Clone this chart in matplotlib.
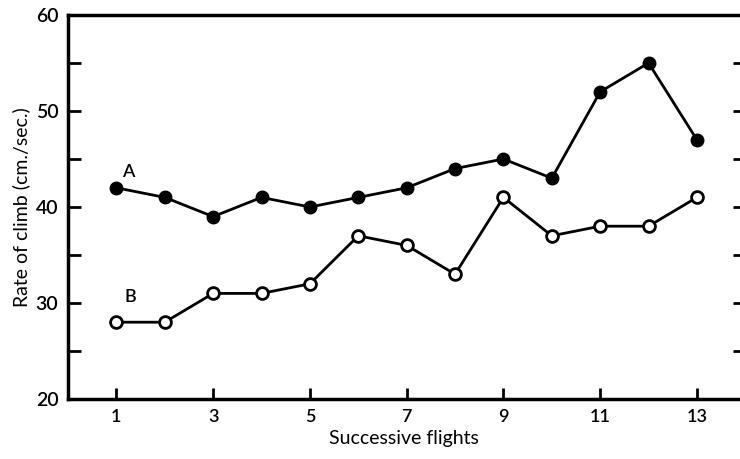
import matplotlib
matplotlib.use("Agg")
import matplotlib.pyplot as plt
from matplotlib.ticker import MultipleLocator

flights = list(range(1, 14))
rate_a = [42, 41, 39, 41, 40, 41, 42, 44, 45, 43, 52, 55, 47]
rate_b = [28, 28, 31, 31, 32, 37, 36, 33, 41, 37, 38, 38, 41]
xticks = [1, 3, 5, 7, 9, 11, 13]
yticks = [20, 30, 40, 50, 60]

plt.rcParams['font.family'] = ['Lato', 'DejaVu Sans']
plt.rcParams['font.weight'] = 'semibold'

fig = plt.figure(figsize=(7.4, 4.59), dpi=100)
ax = fig.add_axes([68 / 740, 60 / 459, 672 / 740, 384 / 459])

ax.plot(flights, rate_a, color='black', lw=2, marker='o', ms=9,
        mfc='black', mec='black', clip_on=False)
ax.plot(flights, rate_b, color='black', lw=2, marker='o', ms=8.5,
        mfc='white', mec='black', mew=2, clip_on=False)

ax.text(1.24, 43.65, 'A', fontsize=13, ha='center', va='center')
ax.text(1.28, 30.6, 'B', fontsize=13, ha='center', va='center')

ax.set_xlim(0, 13.89)
ax.set_ylim(20, 60)
ax.set_xticks(xticks)
ax.set_yticks(yticks)
ax.yaxis.set_minor_locator(MultipleLocator(5))

for s in ['left', 'bottom', 'top']:
    ax.spines[s].set_linewidth(2.5)
ax.spines['right'].set_visible(False)

ax.tick_params(axis='x', direction='in', length=8, width=2, labelsize=13, pad=7)
ax.tick_params(axis='y', which='both', direction='in', length=9, width=2,
               labelsize=14, pad=7)

# short inward ticks on the right edge, no spine
ax2 = ax.twinx()
ax2.set_ylim(ax.get_ylim())
ax2.yaxis.set_major_locator(MultipleLocator(5))
for s in ax2.spines.values():
    s.set_visible(False)
ax2.tick_params(axis='y', direction='in', length=5, width=2, labelright=False)

ax.set_xlabel('Successive flights', fontsize=14, labelpad=4)
ax.set_ylabel('Rate of climb (cm./sec.)', fontsize=14, labelpad=4)

fig.set_facecolor('white')
fig.savefig('out.png', dpi=100)
